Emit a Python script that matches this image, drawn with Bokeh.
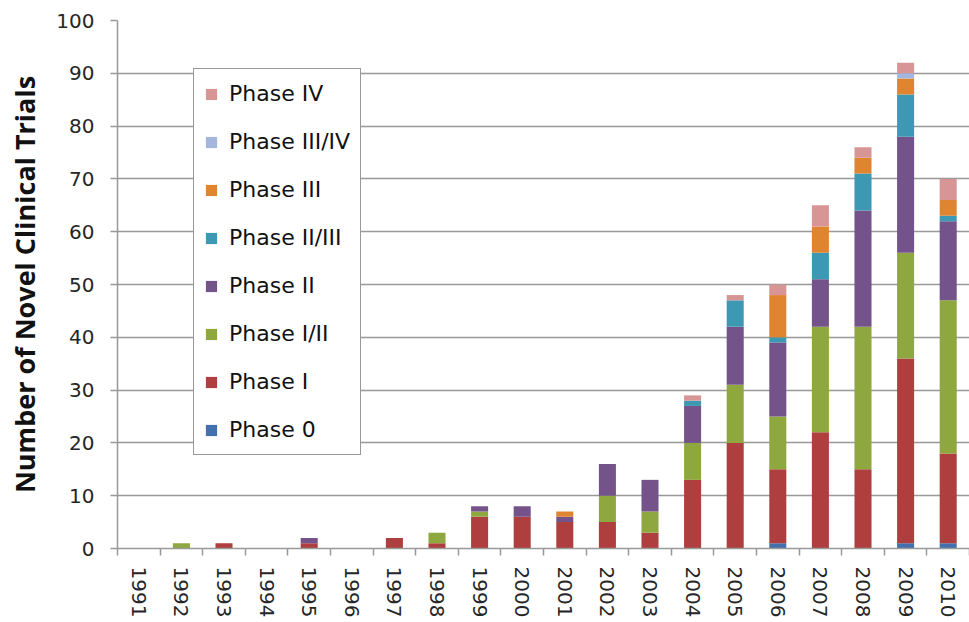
from bokeh.plotting import figure
from bokeh.models import FixedTicker, Legend, LegendItem, ColumnDataSource, Range1d
from bokeh.embed import file_html
from bokeh.resources import INLINE

years = list(range(1991, 2011))
phase_0   = [0, 0, 0, 0, 0, 0, 0, 0, 0, 0, 0, 0, 0, 0, 0, 1, 0, 0, 1, 1]
phase_1   = [0, 0, 1, 0, 1, 0, 2, 1, 6, 6, 5, 5, 3, 13, 20, 14, 22, 15, 35, 17]
phase_1_2 = [0, 1, 0, 0, 0, 0, 0, 2, 1, 0, 0, 5, 4, 7, 11, 10, 20, 27, 20, 29]
phase_2   = [0, 0, 0, 0, 1, 0, 0, 0, 1, 2, 1, 6, 6, 7, 11, 14, 9, 22, 22, 15]
phase_2_3 = [0, 0, 0, 0, 0, 0, 0, 0, 0, 0, 0, 0, 0, 1, 5, 1, 5, 7, 8, 1]
phase_3   = [0, 0, 0, 0, 0, 0, 0, 0, 0, 0, 1, 0, 0, 0, 0, 8, 5, 3, 3, 3]
phase_3_4 = [0, 0, 0, 0, 0, 0, 0, 0, 0, 0, 0, 0, 0, 0, 0, 0, 0, 0, 1, 0]
phase_4   = [0, 0, 0, 0, 0, 0, 0, 0, 0, 0, 0, 0, 0, 1, 1, 2, 4, 2, 2, 4]

series_keys = ["p0", "p1", "p12", "p2", "p23", "p3", "p34", "p4"]
series_labels = ["Phase 0", "Phase I", "Phase I/II", "Phase II", "Phase II/III",
                 "Phase III", "Phase III/IV", "Phase IV"]
series_colors = ["#4371AE", "#AE3F3E", "#8EA73E", "#74538B", "#3D98B4",
                 "#E0852F", "#A4B6DD", "#D79695"]
y_ticks = list(range(0, 101, 10))

source = ColumnDataSource(dict(
    year=years, p0=phase_0, p1=phase_1, p12=phase_1_2, p2=phase_2,
    p23=phase_2_3, p3=phase_3, p34=phase_3_4, p4=phase_4))

FONT = "DejaVu Sans"
TXT = "#262626"
GRID = "#999999"

p = figure(width=969, height=620, output_backend="svg", toolbar_location=None,
           x_range=Range1d(years[0] - 0.5, years[-1] + 0.5),
           y_range=Range1d(0, 100),
           min_border_left=117, min_border_right=0, min_border_top=20,
           min_border_bottom=71)
p.background_fill_color = "white"
p.border_fill_color = "white"
p.outline_line_color = None

renderers = p.vbar_stack(series_keys, x="year", width=0.4, source=source,
                         color=series_colors, line_color=None)

# axes
p.xaxis.ticker = FixedTicker(ticks=years,
                             minor_ticks=[y - 0.5 for y in years] + [years[-1] + 0.5])
p.xaxis.major_label_orientation = "vertical"
p.xaxis.major_tick_out = 0
p.xaxis.major_tick_in = 0
p.xaxis.minor_tick_out = 7
p.xaxis.minor_tick_in = 0
p.xaxis.minor_tick_line_color = GRID
p.xaxis.minor_tick_line_width = 1.5
p.xaxis.axis_line_color = GRID
p.xaxis.axis_line_width = 1.5
p.xaxis.major_label_standoff = 11
p.xaxis.major_label_text_font = FONT
p.xaxis.major_label_text_font_size = "20px"
p.xaxis.major_label_text_color = TXT

p.yaxis.ticker = FixedTicker(ticks=y_ticks, minor_ticks=[])
p.yaxis.major_tick_out = 7
p.yaxis.major_tick_in = 0
p.yaxis.major_tick_line_color = GRID
p.yaxis.major_tick_line_width = 1.5
p.yaxis.axis_line_color = GRID
p.yaxis.axis_line_width = 1.5
p.yaxis.major_label_standoff = 16
p.yaxis.major_label_text_font = FONT
p.yaxis.major_label_text_font_size = "20px"
p.yaxis.major_label_text_color = TXT
p.yaxis.axis_label = "Number of Novel Clinical Trials"
p.yaxis.axis_label_text_font = "Open Sans"
p.yaxis.axis_label_text_font_style = "bold"
p.yaxis.axis_label_text_font_size = "27px"
p.yaxis.axis_label_text_color = "#111111"
p.yaxis.axis_label_standoff = 10

p.xgrid.grid_line_color = None
p.ygrid.grid_line_color = GRID
p.ygrid.grid_line_width = 1.5

items = [LegendItem(label=lab, renderers=[r])
         for lab, r in zip(series_labels, renderers)]
items.reverse()
legend = Legend(items=items, location=(76, 93), margin=0,
                padding=10, spacing=19, label_height=29, glyph_height=14,
                glyph_width=14, label_standoff=11,
                label_text_font=FONT, label_text_font_size="22px",
                label_text_color="#111111",
                border_line_color="#333333", border_line_width=1.2,
                background_fill_color="white", background_fill_alpha=1)
p.add_layout(legend, "center")

open("out.html", "w").write(file_html(p, INLINE))
